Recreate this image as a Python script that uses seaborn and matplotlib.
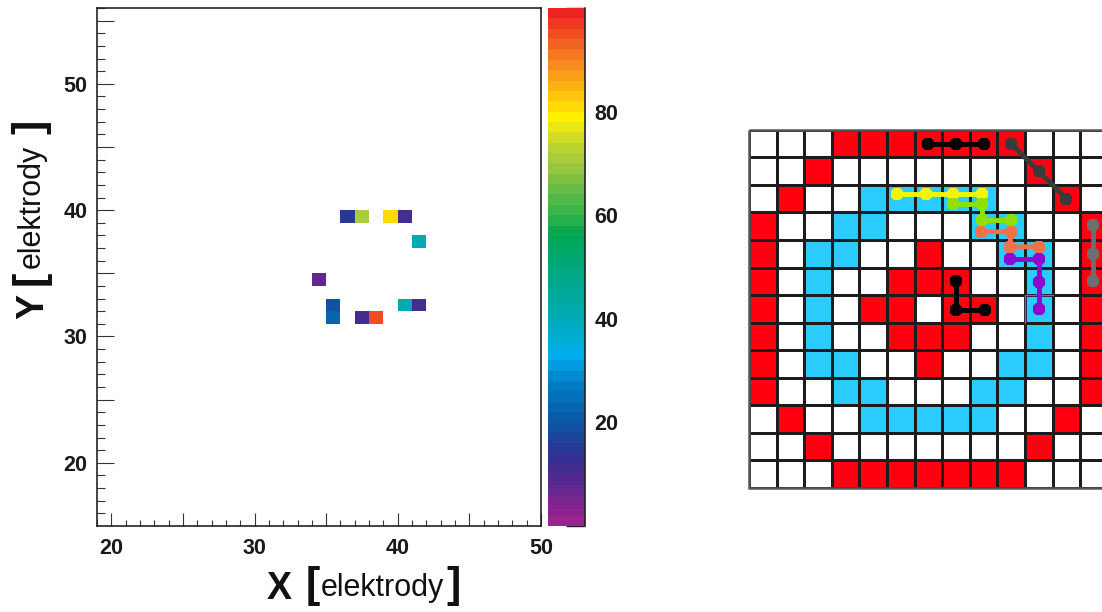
import numpy as np
import pandas as pd
import matplotlib
matplotlib.use("Agg")
import matplotlib.pyplot as plt
from matplotlib.colors import ListedColormap, LinearSegmentedColormap
from matplotlib.patches import Rectangle
import seaborn as sns

# ---------------- data: left 2D histogram (hits) ----------------
hit_x = [36, 37, 39, 40, 41, 34, 35, 40, 41, 35, 37, 38]
hit_y = [39, 39, 39, 39, 37, 34, 32, 32, 32, 31, 31, 31]
hit_val = [14, 71, 81, 10, 41, 6, 18, 41, 10, 23, 10, 95]
x_min, x_max = 19, 50
y_min, y_max = 15, 56
z_min, z_max = 0, 100
x_tick_labels = [20, 30, 40, 50]
y_tick_labels = [20, 30, 40, 50]
cbar_tick_labels = [20, 40, 60, 80]

# ---------------- data: right electrode map ----------------
# 0 = empty, 1 = red, 2 = cyan
grid_rows = [
    "0001111111000",
    "0010000000100",
    "0100222220010",
    "1002200022001",
    "1022001002201",
    "1020011100201",
    "1020110110201",
    "1020011100201",
    "1022001002201",
    "1002200022001",
    "0100222220010",
    "0010000000100",
    "0001111111000",
]

# tracks (cell units: column, row from top)
track_black1_x = [6.5, 7.5, 8.5]
track_black1_y = [0.5, 0.5, 0.5]
track_gray1_x = [9.5, 10.5, 11.5]
track_gray1_y = [0.5, 1.5, 2.5]
track_yellow_x = [5.35, 6.4, 7.4, 8.45]
track_yellow_y = [2.33, 2.33, 2.33, 2.33]
track_green_x = [7.4, 8.45, 8.45, 9.5]
track_green_y = [2.7, 2.7, 3.27, 3.27]
track_orange_x = [8.4, 9.5, 9.45, 10.5]
track_orange_y = [3.7, 3.7, 4.25, 4.25]
track_purple_x = [9.45, 10.5, 10.5, 10.5]
track_purple_y = [4.7, 4.7, 5.52, 6.51]
track_gray2_x = [12.45, 12.45, 12.45]
track_gray2_y = [3.45, 4.5, 5.5]
track_black2_x = [7.5, 7.5, 8.55]
track_black2_y = [5.5, 6.55, 6.55]
outline_x = [10, 10, 11]
outline_y = [7, 6, 6]

# ---------------- styling ----------------
sns.set_style("white")
plt.rcParams['font.family'] = ['Liberation Sans', 'DejaVu Sans']

W, H = 1102, 612
fig = plt.figure(figsize=(W / 100, H / 100), dpi=100)

def fr(x0, y_top, w, h):
    return [x0 / W, (H - y_top - h) / H, w / W, h / H]

# ROOT-like rainbow palette, 50 levels
anchor_vals = [0, 8, 14, 20, 27, 33, 40, 48, 56, 60, 64, 70, 76, 79, 83, 88, 93, 100]
anchor_cols = ['#a3218e', '#5a278f', '#2e3192', '#0b57a4', '#0079c1', '#00aeef',
               '#00aab5', '#00a88a', '#00a651', '#2fb34a', '#5ab947', '#a0c83c',
               '#d7df23', '#fff200', '#ffc60b', '#f7941d', '#f26522', '#ed1c24']
base = LinearSegmentedColormap.from_list(
    "rootpal", list(zip([v / 100 for v in anchor_vals], anchor_cols)))
cmap = ListedColormap([base((2 * i + 1) / 100) for i in range(50)])

# ---------------- left histogram ----------------
ax = fig.add_axes(fr(97, 8, 444, 518))
cax = fig.add_axes(fr(548, 8, 37, 518))

ybins = list(range(y_max - 1, y_min - 1, -1))
xbins = list(range(x_min, x_max))
hist = pd.DataFrame(np.nan, index=ybins, columns=xbins)
for xx, yy, vv in zip(hit_x, hit_y, hit_val):
    hist.loc[yy, xx] = vv

sns.heatmap(hist, ax=ax, cmap=cmap, vmin=z_min, vmax=z_max, cbar=True,
            cbar_ax=cax, xticklabels=False, yticklabels=False)

xmaj = list(range(20, 51, 5))
ax.set_xticks([v - x_min for v in xmaj])
ax.set_xticklabels([str(v) if v in x_tick_labels else '' for v in xmaj],
                   fontsize=15.5, fontweight='bold')
ax.set_xticks([v - x_min for v in range(x_min, x_max + 1) if v % 5], minor=True)
ymaj = list(range(20, 56, 5))
ax.set_yticks([y_max - v for v in ymaj])
ax.set_yticklabels([str(v) if v in y_tick_labels else '' for v in ymaj],
                   fontsize=15.5, fontweight='bold', rotation=0)
ax.set_yticks([y_max - v for v in range(y_min, y_max + 1) if v % 5], minor=True)

ax.tick_params(axis='x', which='major', direction='in', length=9.5, width=0.8,
               color='#333333', pad=9, bottom=True, labelcolor='#1a1a1a')
ax.tick_params(axis='y', which='major', direction='in', length=12, width=0.8,
               color='#333333', pad=7, left=True, labelcolor='#1a1a1a')
ax.tick_params(axis='x', which='minor', direction='in', length=4, width=0.8,
               color='#333333', bottom=True)
ax.tick_params(axis='y', which='minor', direction='in', length=6, width=0.8,
               color='#333333', left=True)
for s in ax.spines.values():
    s.set_visible(True)
    s.set_color('#222222')
    s.set_linewidth(1.2)

# colorbar
cbar = ax.collections[0].colorbar
cbar.outline.set_visible(False)
cax.yaxis.set_ticks_position('right')
cbar.set_ticks(cbar_tick_labels)
cax.set_yticklabels([str(v) for v in cbar_tick_labels], fontsize=15.5, fontweight='bold')
cax.set_yticks([0, 10, 30, 50, 70, 90, 100], minor=True)
cax.tick_params(which='both', direction='in', length=14, width=1.0,
                color='#222222', right=True, left=False, pad=7, labelcolor='#1a1a1a')
cax.plot([1, 1], [0, 1], transform=cax.transAxes, color='#222222', lw=1.2,
         clip_on=False)

# axis titles
def title_part(x, y, s, size, weight, rot=0):
    fig.text(x / W, 1 - y / H, s, fontsize=size, fontweight=weight, rotation=rot,
             rotation_mode='anchor', ha='left', va='baseline', color='#111111')

title_part(267, 599, 'X', 27, 'bold')
title_part(306, 597, '[', 31, 'bold')
title_part(321, 596, 'elektrody', 22, 'normal')
title_part(446, 597, ']', 31, 'bold')

title_part(43, 319, 'Y', 27, 'bold', 90)
title_part(42, 285, '[', 31, 'bold', 90)
title_part(40, 268, 'elektrody', 22, 'normal', 90)
title_part(42, 134, ']', 31, 'bold', 90)

# ---------------- right electrode map ----------------
cell_w, cell_h = 27.6, 27.5
ax2 = fig.add_axes(fr(749, 130, 13 * cell_w, 13 * cell_h))
grid = np.array([[int(c) for c in row] for row in grid_rows])
sns.heatmap(grid, ax=ax2, cmap=ListedColormap(['#ffffff', '#ff0010', '#2acbfd']),
            vmin=-0.5, vmax=2.5, cbar=False, linewidths=1.8, linecolor='#1c1c1c',
            xticklabels=False, yticklabels=False)
ax2.set_axis_off()
ax2.add_patch(Rectangle((0, 0), 13, 13, fill=False, ec='#555555', lw=1.8,
                        clip_on=False))

ax2.plot(outline_x, outline_y, color='#a640ff', lw=1.0, zorder=4)

tracks = [
    (track_black1_x, track_black1_y, '#000000'),
    (track_gray1_x, track_gray1_y, '#3a3a3a'),
    (track_yellow_x, track_yellow_y, '#f5f500'),
    (track_green_x, track_green_y, '#8fe000'),
    (track_orange_x, track_orange_y, '#f47048'),
    (track_purple_x, track_purple_y, '#8c0ad0'),
    (track_gray2_x, track_gray2_y, '#6e6e6e'),
    (track_black2_x, track_black2_y, '#000000'),
]
for tx, ty, col in tracks:
    sns.lineplot(x=tx, y=ty, ax=ax2, sort=False, estimator=None, color=col,
                 linewidth=3.5, marker='8', markersize=10, markeredgewidth=0,
                 legend=False, zorder=5)

ax2.set_xlim(0, 13)
ax2.set_ylim(13, 0)

fig.savefig("out.png", dpi=100)
